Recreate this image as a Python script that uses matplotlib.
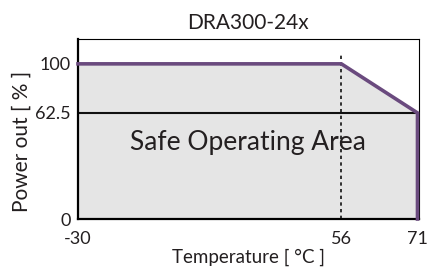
import matplotlib
matplotlib.use('Agg')
import matplotlib.pyplot as plt
import numpy as np

# derating curve
temps = [-30, 56, 71, 71]
power = [100, 100, 62.5, 0]
x_ticks = [-30, 56, 71]
y_ticks = [0, 62.5, 100]
y_tick_labels = ['0', '62.5', '100']

# the chart is not drawn to a linear scale, so map the axes piecewise
x_knots = [-30, 56, 71, 100]
x_pos = [0, 263, 339, 339 + 29 * 76 / 15]
y_knots = [0, 62.5, 100, 130]
y_pos = [0, 106, 155, 155 + 30 * 49 / 37.5]


def fwd_x(v):
    return np.interp(v, x_knots, x_pos)


def inv_x(v):
    return np.interp(v, x_pos, x_knots)


def fwd_y(v):
    return np.interp(v, y_knots, y_pos)


def inv_y(v):
    return np.interp(v, y_pos, y_knots)


plt.rcParams['font.family'] = ['Lato', 'DejaVu Sans']
purple = '#6a4a7e'
ink = '#231f20'

fig = plt.figure(figsize=(4.3, 2.68), dpi=100)
ax = fig.add_axes([78 / 430, 1 - 219 / 268, 340.5 / 430, 180 / 268])
ax.set_xscale('function', functions=(fwd_x, inv_x))
ax.set_yscale('function', functions=(fwd_y, inv_y))
ax.set_xlim(-30, 71.2)
ax.set_ylim(0, 119)

ax.fill_between(temps, power, 0, color='#e5e5e5', zorder=1)
ax.axhline(62.5, color='#111111', lw=1.5, zorder=2)
ax.axvline(56, ymax=0.915, color='#111111', lw=1.2, ls=(0, (2, 2)), zorder=2)
ax.plot(temps, power, color=purple, lw=2.6, solid_joinstyle='miter',
        clip_on=False, zorder=3)

ax.text(25.5, 45, 'Safe Operating Area', fontsize=19, color=ink,
        ha='center', va='center')

ax.set_xticks(x_ticks)
ax.set_xticklabels([str(t) for t in x_ticks])
ax.set_yticks(y_ticks)
ax.set_yticklabels(y_tick_labels)
ax.minorticks_off()
ax.tick_params(length=0, labelsize=13, colors=ink)
ax.tick_params(axis='x', pad=9)
ax.tick_params(axis='y', pad=5)

for side in ['left', 'bottom']:
    ax.spines[side].set_linewidth(1.6)
for side in ['top', 'right']:
    ax.spines[side].set_linewidth(0.8)

ax.set_title('DRA300-24x', fontsize=15, color=ink, pad=7)
ax.set_xlabel('Temperature [ °C ]', fontsize=13.5, color=ink, labelpad=1)
ax.set_ylabel('Power out [ % ]', fontsize=15, color=ink)
ax.yaxis.set_label_coords(-0.135, 0.43)

plt.savefig('out.png', dpi=100)
plt.close()
